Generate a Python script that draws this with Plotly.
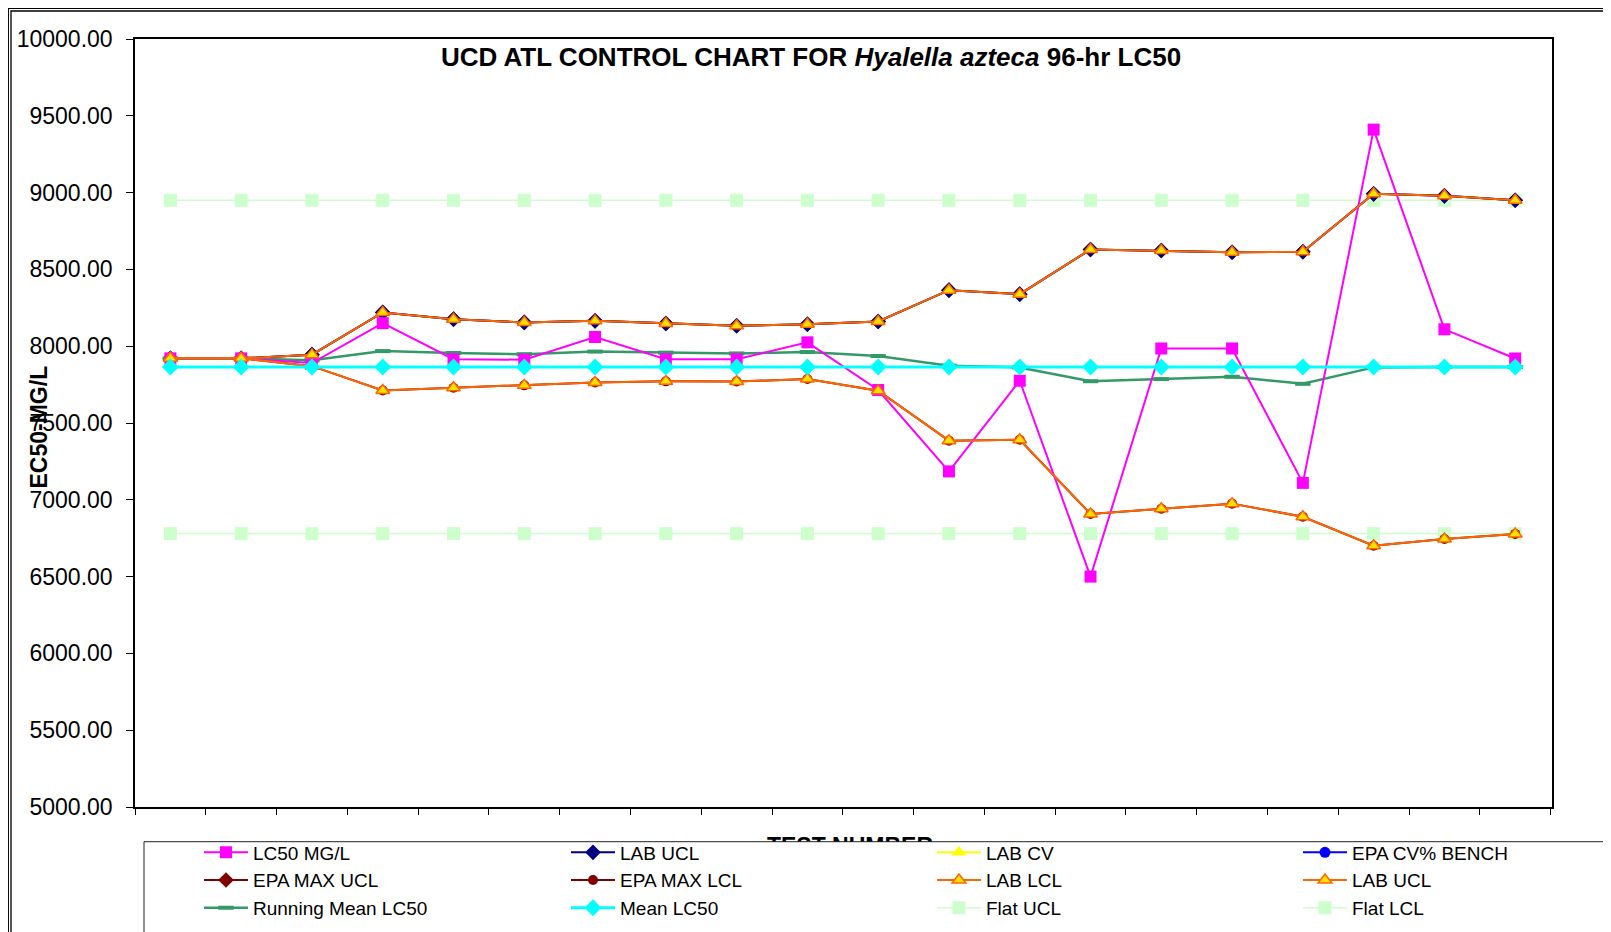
"""UCD ATL control chart for Hyalella azteca 96-hr LC50."""
import plotly.graph_objects as go

# ---- data ----
test_number = [1, 2, 3, 4, 5, 6, 7, 8, 9, 10, 11, 12, 13, 14, 15, 16, 17, 18, 19, 20]

lc50 = [7921, 7921, 7890, 8150, 7915, 7912, 8060, 7915, 7915, 8025,
        7715, 7185, 7775, 6500, 7985, 7985, 7110, 9410, 8110, 7920]

running_mean = [7920, 7920, 7908, 7968, 7956, 7948, 7965, 7958, 7953, 7962,
                7936, 7873, 7862, 7772, 7786, 7801, 7755, 7862, 7865, 7865]

mean_lc50 = [7865] * 20

lab_ucl = [7921, 7921, 7945, 8220, 8176, 8155, 8165, 8148, 8133, 8143,
           8161, 8365, 8339, 8630, 8623, 8612, 8615, 8992, 8979, 8950]

lab_lcl = [7921, 7921, 7870, 7712, 7730, 7745, 7764, 7771, 7770, 7786,
           7710, 7385, 7391, 6908, 6942, 6975, 6890, 6701, 6745, 6778]

flat_ucl = [8950] * 20
flat_lcl = [6780] * 20

y_ticks = [5000, 5500, 6000, 6500, 7000, 7500, 8000, 8500, 9000, 9500, 10000]

FONT = "Arial, 'Liberation Sans', sans-serif"

# the page body adds an 8px offset, so layout positions are given in
# page pixels and shifted back here
OFF = 8
W, H = 1611, 932
L, R, T = 135 - OFF, 1552 - OFF, 39 - OFF   # plot area (figure px), bottom = H


def px_x(px):
    return (px - OFF - L) / (R - L)


def px_y(py):
    return (H - (py - OFF)) / (H - T)


def series(name, y, color, symbol, size, width, legend, rank,
           fill=None, mline=None):
    return go.Scatter(
        x=test_number if y is not None else [None],
        y=y if y is not None else [None],
        name=name,
        mode='lines+markers',
        line=dict(color=color, width=width),
        marker=dict(symbol=symbol, size=size, color=fill or color,
                    line=mline or dict(width=0)),
        legend=legend,
        legendrank=rank,
        hoverinfo='name+y',
    )


fig = go.Figure()

tri_line = dict(color='#FF6600', width=1.5)

# drawing order (bottom to top)
fig.add_trace(series('Flat UCL', flat_ucl, '#CCFFCC', 'square', 13, 1.5, 'legend3', 3))
fig.add_trace(series('Flat LCL', flat_lcl, '#CCFFCC', 'square', 13, 1.5, 'legend4', 3))
fig.add_trace(series('EPA MAX UCL', lab_ucl, '#800000', 'diamond', 12, 2, 'legend', 2))
fig.add_trace(series('EPA MAX LCL', lab_lcl, '#800000', 'circle', 10, 2, 'legend2', 2))
fig.add_trace(series('LAB UCL', lab_ucl, '#000080', 'diamond', 12, 2, 'legend2', 1))
fig.add_trace(series('LAB CV', None, '#FFFF00', 'triangle-up', 13, 2, 'legend3', 1))
fig.add_trace(series('EPA CV% BENCH', None, '#0000FF', 'circle', 11, 2, 'legend4', 1))
fig.add_trace(series('Running Mean LC50', running_mean, '#339966', 'line-ew', 11, 2.5,
                     'legend', 3, mline=dict(color='#339966', width=4)))
fig.add_trace(series('LC50 MG/L', lc50, '#FF00FF', 'square', 12, 2, 'legend', 1))
fig.add_trace(series('LAB LCL', lab_lcl, '#FF6600', 'triangle-up', 12, 2, 'legend3', 2,
                     fill='#FFE000', mline=tri_line))
fig.add_trace(series('LAB UCL', lab_ucl, '#FF6600', 'triangle-up', 12, 2, 'legend4', 2,
                     fill='#FFE000', mline=tri_line))
fig.add_trace(series('Mean LC50', mean_lc50, '#00FFFF', 'diamond', 13, 3, 'legend2', 3))

# x axis title, only its top edge shows above the legend box
fig.add_trace(go.Scatter(
    x=[px_x(850)], y=[-0.55], xaxis='x2', yaxis='y2',
    mode='text', text=['<b>TEST NUMBER</b>'],
    textfont=dict(family=FONT, size=23, color='black'),
    showlegend=False, hoverinfo='skip', cliponaxis=True,
))

legend_style = dict(
    orientation='v', xanchor='left', yanchor='top', y=px_y(833.5),
    bgcolor='rgba(0,0,0,0)', borderwidth=0,
    font=dict(family=FONT, size=19, color='black'),
    tracegroupgap=0, itemwidth=44,
)

fig.update_layout(
    width=W,
    height=H,
    margin=dict(l=L, r=W - R, t=T, b=0, autoexpand=False),
    paper_bgcolor='white',
    plot_bgcolor='white',
    font=dict(family=FONT, color='black'),
    title=dict(
        text='<b>UCD ATL CONTROL CHART FOR <i>Hyalella azteca</i> 96-hr LC50</b>',
        x=(811 - OFF) / W, xanchor='center',
        y=1 - (57 - OFF) / H, yanchor='middle',
        font=dict(family=FONT, size=26, color='black'),
    ),
    xaxis=dict(
        range=[0.5, 20.52],
        tickvals=[i + 0.5 for i in range(21)],
        showticklabels=False,
        ticks='outside', ticklen=6, tickwidth=1, tickcolor='black',
        showline=True, linecolor='black', linewidth=2, mirror=True,
        showgrid=False, zeroline=False, anchor='y',
    ),
    yaxis=dict(
        domain=[px_y(807), 1],
        range=[5000, 10000],
        tickvals=y_ticks,
        tickformat='.2f',
        ticks='outside', ticklen=7, tickwidth=1, tickcolor='black',
        ticklabelstandoff=9,
        tickfont=dict(family=FONT, size=23, color='black'),
        showline=True, linecolor='black', linewidth=1.5, mirror=True,
        showgrid=False, zeroline=False,
    ),
    xaxis2=dict(domain=[0, 1], range=[0, 1], visible=False, anchor='y2'),
    yaxis2=dict(domain=[px_y(842), px_y(830)], range=[0, 1], visible=False, anchor='x2'),
    legend=dict(legend_style, x=px_x(199)),
    legend2=dict(legend_style, x=px_x(566)),
    legend3=dict(legend_style, x=px_x(932)),
    legend4=dict(legend_style, x=px_x(1298)),
    annotations=[dict(
        text='<b>EC50-MG/L</b>', textangle=-90,
        x=px_x(38.5), y=px_y(427), xref='paper', yref='paper',
        xanchor='center', yanchor='middle', showarrow=False,
        font=dict(family=FONT, size=23, color='black'),
    )],
    shapes=[
        # double outer frame
        dict(type='rect', xref='paper', yref='paper',
             x0=px_x(8.3), y0=px_y(8.3), x1=px_x(1640), y1=px_y(960),
             line=dict(color='black', width=1.3)),
        dict(type='rect', xref='paper', yref='paper',
             x0=px_x(11), y0=px_y(11), x1=px_x(1640), y1=px_y(960),
             line=dict(color='black', width=1.3)),
        # legend box
        dict(type='rect', xref='paper', yref='paper',
             x0=px_x(144), y0=px_y(841.7), x1=px_x(1606.5), y1=px_y(960),
             line=dict(color='#222222', width=1)),
    ],
    showlegend=True,
    hovermode='closest',
)

fig.write_html("out.html")
